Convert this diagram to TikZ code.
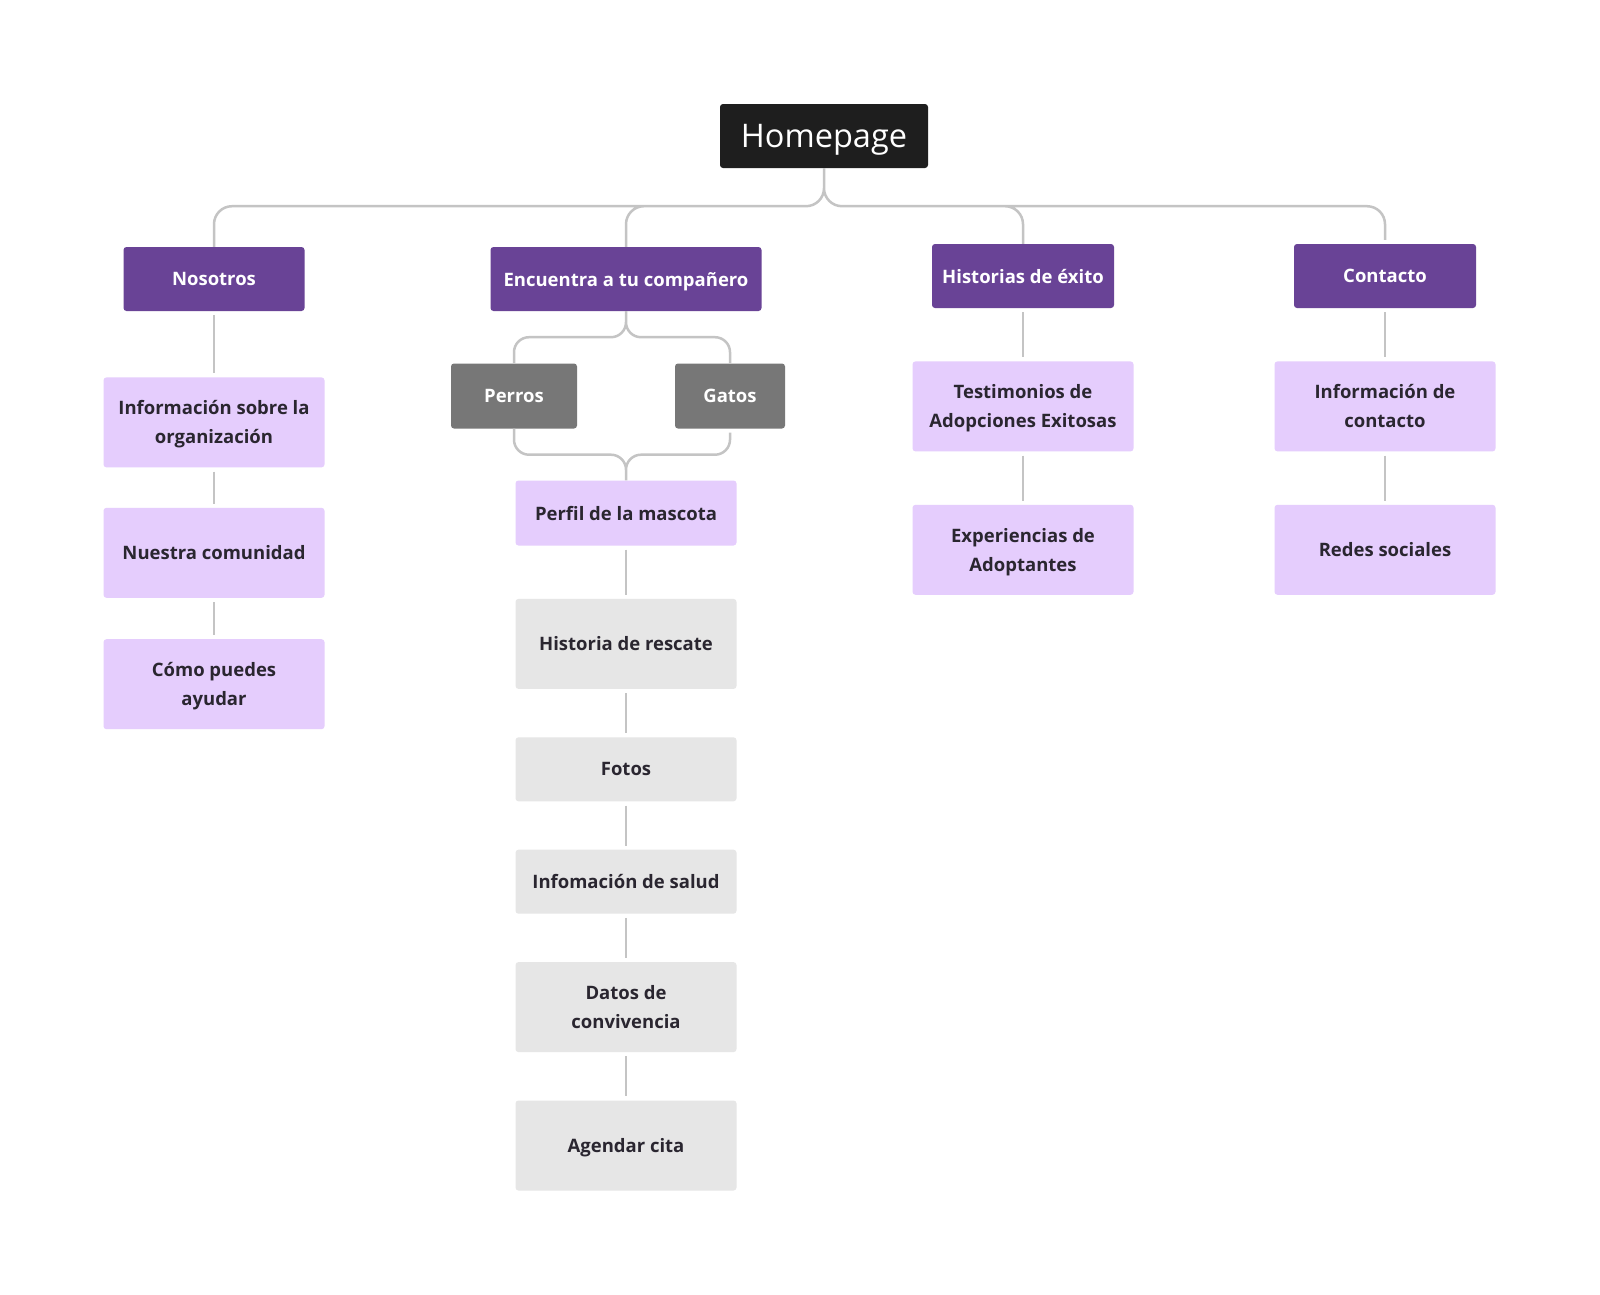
\documentclass[tikz,border=0pt]{standalone}
\usepackage{fontspec}
\setmainfont{Open Sans}
\usetikzlibrary{positioning}

\definecolor{homeblack}{HTML}{1E1E1E}
\definecolor{secpurple}{HTML}{694396}
\definecolor{lilac}{HTML}{E5CDFD}
\definecolor{petgray}{HTML}{777777}
\definecolor{palegray}{HTML}{E6E6E6}
\definecolor{linkgray}{HTML}{C4C4C4}
\definecolor{darktext}{HTML}{2A2630}

\tikzset{
  box/.style={rounded corners=3pt, align=center, inner sep=0pt, text depth=0pt},
  homebox/.style={box, fill=homeblack, text=white, minimum width=208pt,
    minimum height=64pt, font=\fontsize{32.5}{36}\selectfont},
  secbox/.style={box, fill=secpurple, text=white, minimum height=64pt,
    font=\bfseries\fontsize{18.5}{29}\selectfont},
  petbox/.style={box, fill=petgray, text=white, minimum height=65pt,
    font=\bfseries\fontsize{18.5}{29}\selectfont},
  subbox/.style={box, fill=lilac, text=darktext, minimum width=221pt,
    minimum height=90pt, font=\bfseries\fontsize{18.5}{29}\selectfont},
  detailbox/.style={box, fill=palegray, text=darktext, minimum width=221pt,
    minimum height=90pt, font=\bfseries\fontsize{18.5}{29}\selectfont},
  link/.style={draw=linkgray, line width=2.5pt, shorten >=4pt, shorten <=4pt}
}

\begin{document}
\begin{tikzpicture}[x=1pt,y=-1pt,node distance=48pt]
    \useasboundingbox[fill=white] (0,0) rectangle (1600,1294);

    \node[homebox] (home) at (824,136) {Homepage};

    \node[secbox, minimum width=181pt] (noso) at (214,279) {Nosotros};
    \node[secbox, minimum width=271pt] (enc)  at (626,279) {Encuentra a tu compañero};
    \node[secbox, minimum width=182pt] (hist) at (1023,276) {Historias de éxito};
    \node[secbox, minimum width=182pt] (cont) at (1385,276) {Contacto};

    % Nosotros
    \node[subbox] (infoorg)   [below=66pt of noso]      {Información sobre la\\organización};
    \node[subbox] (comunidad) [below=40pt of infoorg]   {Nuestra comunidad};
    \node[subbox] (ayudar)    [below=41pt of comunidad] {Cómo puedes\\ayudar};

    % Encuentra a tu compañero
    \node[petbox, minimum width=126pt] (perros) at (514,396) {Perros};
    \node[petbox, minimum width=110pt] (gatos)  at (730,396) {Gatos};
    \node[subbox, minimum height=65pt] (perfil) at (626,513) {Perfil de la mascota};
    \node[detailbox] (rescate) [below=53pt of perfil] {Historia de rescate};
    \node[detailbox, minimum height=64pt] (fotos) [below=48pt of rescate] {Fotos};
    \node[detailbox, minimum height=64pt] (salud) [below=48pt of fotos] {Infomación de salud};
    \node[detailbox] (convive) [below=48pt of salud]   {Datos de\\convivencia};
    \node[detailbox] (cita)    [below=48pt of convive] {Agendar cita};

    % Historias de exito
    \node[subbox] (testim) [below=53pt of hist]   {Testimonios de\\Adopciones Exitosas};
    \node[subbox] (experi) [below=53pt of testim] {Experiencias de\\Adoptantes};

    % Contacto
    \node[subbox] (infocont) [below=53pt of cont]     {Información de\\contacto};
    \node[subbox] (redes)    [below=53pt of infocont] {Redes sociales};

    \path[link, rounded corners=18pt]
        (home.south) -- ++(0,38) -| (noso.north)
        (home.south) -- ++(0,38) -| (enc.north)
        (home.south) -- ++(0,38) -| (hist.north)
        (home.south) -- ++(0,38) -| (cont.north);

    \path[link, rounded corners=15pt]
        (enc.south) -- ++(0,26) -| (perros.north)
        (enc.south) -- ++(0,26) -| (gatos.north)
        (perros.south) -- ++(0,26) -| (perfil.north)
        (gatos.south) -- ++(0,26) -| (perfil.north);

    \draw[link] (noso) -- (infoorg);
    \draw[link] (infoorg) -- (comunidad);
    \draw[link] (comunidad) -- (ayudar);
    \draw[link] (perfil) -- (rescate);
    \draw[link] (rescate) -- (fotos);
    \draw[link] (fotos) -- (salud);
    \draw[link] (salud) -- (convive);
    \draw[link] (convive) -- (cita);
    \draw[link] (hist) -- (testim);
    \draw[link] (testim) -- (experi);
    \draw[link] (cont) -- (infocont);
    \draw[link] (infocont) -- (redes);

\end{tikzpicture}
\end{document}
